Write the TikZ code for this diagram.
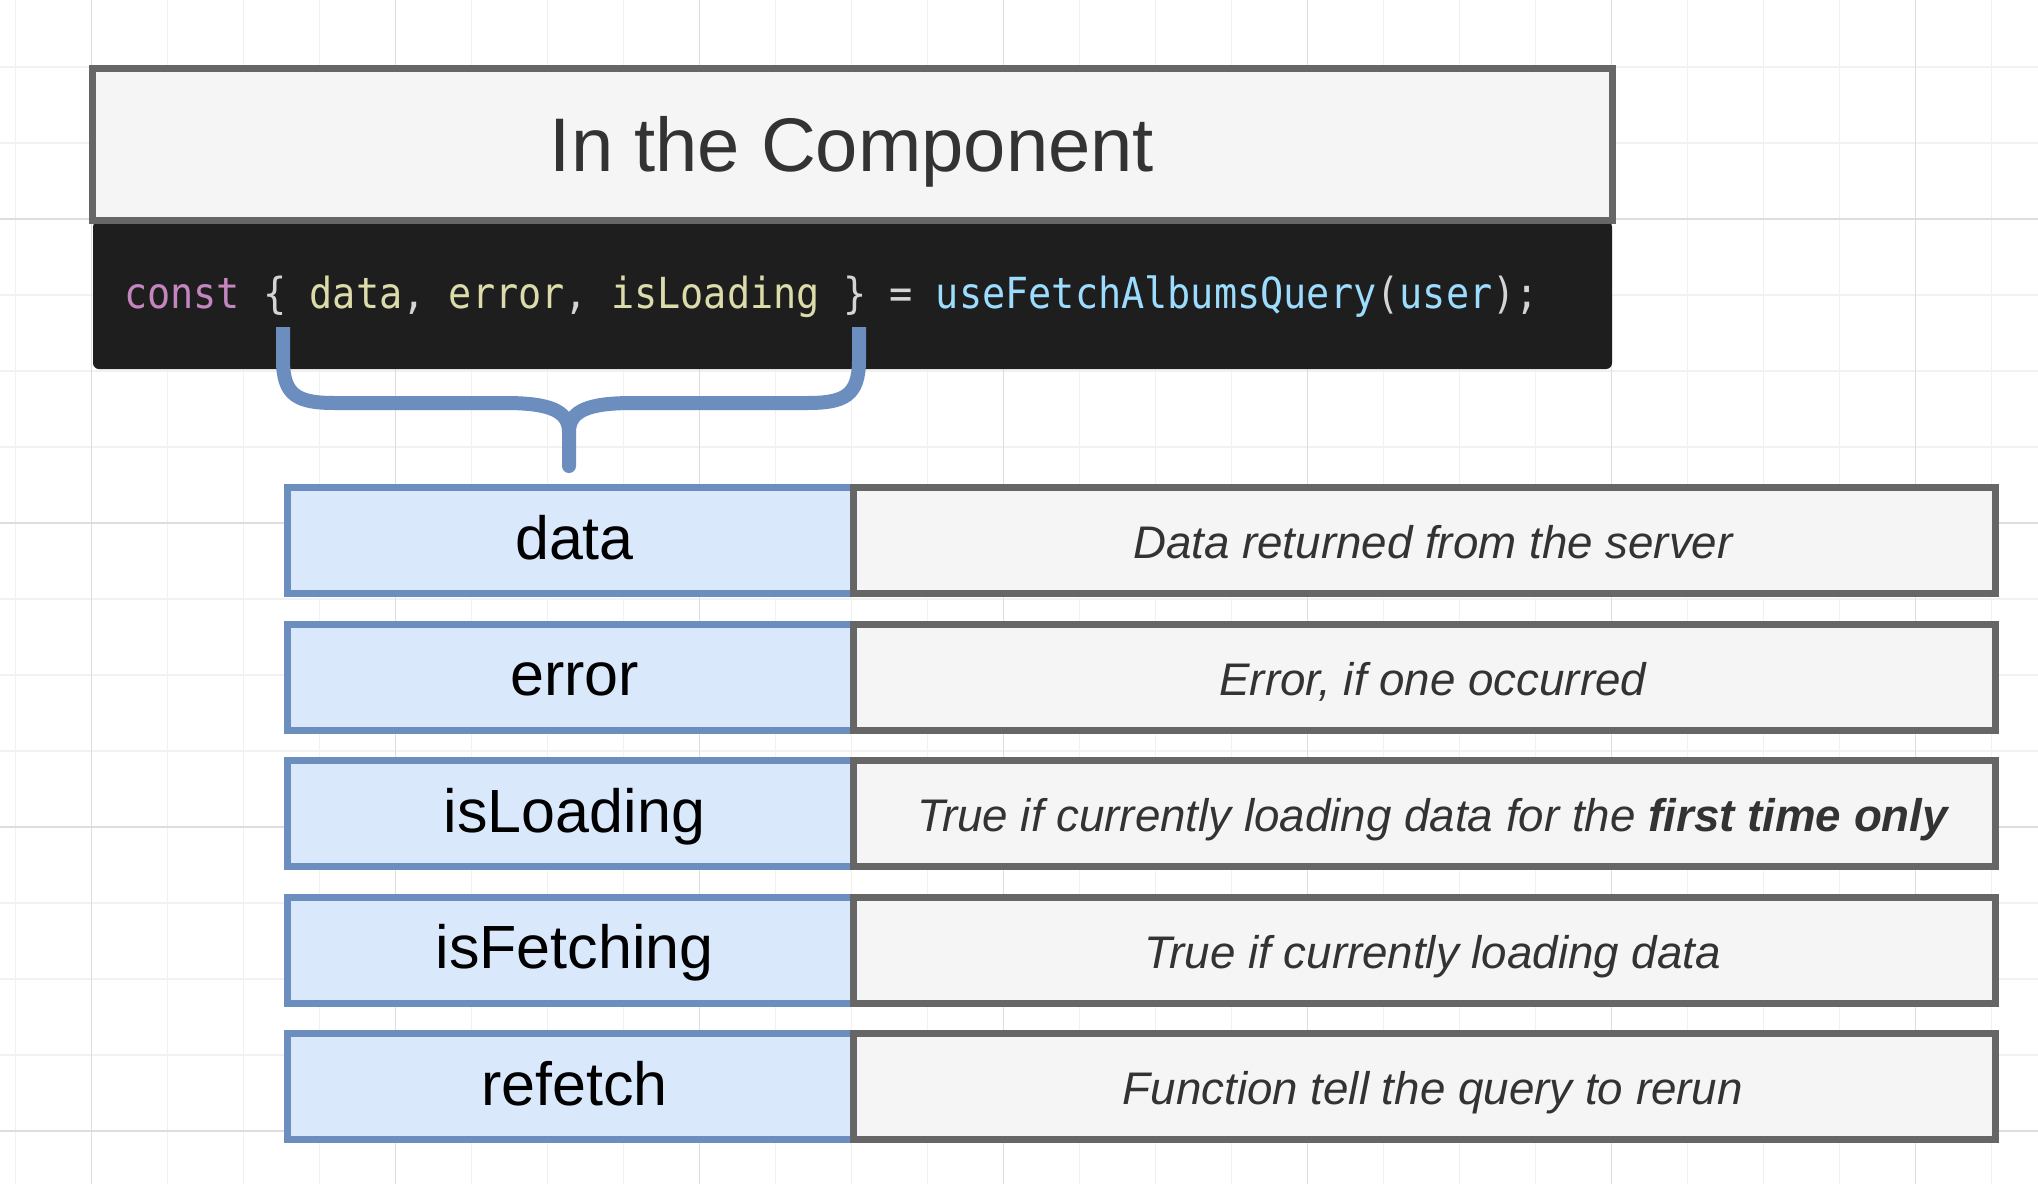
\documentclass[tikz,border=0pt]{standalone}
\usepackage{fontspec}
\setmainfont{Liberation Sans}
\newfontfamily\codefont[FakeStretch=0.9]{DejaVu Sans Mono}
\definecolor{lblue}{HTML}{6C8EBF}
\definecolor{lfill}{HTML}{DAE8FC}
\definecolor{dgray}{HTML}{666666}
\definecolor{gfill}{HTML}{F5F5F5}
\definecolor{tgray}{HTML}{333333}
\definecolor{codebg}{HTML}{1E1E1E}
\definecolor{ckw}{HTML}{C586C0}
\definecolor{cpun}{HTML}{D4D4D4}
\definecolor{cvar}{HTML}{DCDCAA}
\definecolor{cfun}{HTML}{9CDCFE}
\definecolor{gminor}{HTML}{F1F1F1}
\definecolor{gmajor}{HTML}{DDDDDD}
\tikzset{
  leftcell/.style={draw=lblue, fill=lfill, line width=7pt, minimum width=566pt, minimum height=106pt, inner sep=0pt,
    font=\fontsize{61}{64}\selectfont, text=black, text height=37pt, text depth=0pt},
  rightcell/.style={draw=dgray, fill=gfill, line width=7pt, minimum width=1142.7pt, minimum height=106pt, inner sep=0pt,
    font=\fontsize{45.7}{48}\selectfont\itshape, text=tgray, text height=36pt, text depth=0pt},
  titlebox/.style={draw=dgray, fill=gfill, line width=7pt, minimum width=1520pt, minimum height=152pt, inner sep=0pt,
    font=\fontsize{76}{80}\selectfont, text=tgray, text height=55.4pt, text depth=0pt},
  codebox/.style={fill=codebg, rounded corners=6pt, minimum width=1519pt, minimum height=148pt, inner sep=0pt},
  bracestyle/.style={draw=lblue, line width=14pt, line cap=butt, line join=round},
}
\newcommand{\kshift}{\hspace*{9pt}}
\newcommand{\vshift}{\hspace*{17pt}}
\begin{document}
\begin{tikzpicture}[x=1pt, y=-1pt]
\useasboundingbox (0,0) rectangle (2038,1184);
\fill[white] (0,0) rectangle (2038,1184);
% grid
\foreach \i in {0,...,26} \draw[gminor, line width=1.5pt] (15.7+76*\i,0) -- (15.7+76*\i,1184);
\foreach \i in {1,...,15} \draw[gminor, line width=1.5pt] (0,-9+76*\i) -- (2038,-9+76*\i);
\foreach \i in {0,...,6} \draw[gmajor, line width=1.5pt] (91.7+304*\i,0) -- (91.7+304*\i,1184);
\foreach \i in {0,...,3} \draw[gmajor, line width=1.5pt] (0,219+304*\i) -- (2038,219+304*\i);

% code block and title
\node[codebox] (codebg) at (852.5,295) {};
\node[titlebox] (title) at (852,144) {In the Component};
\node[anchor=base west, inner sep=0pt, font=\codefont\fontsize{42.8}{46}\selectfont] (code) at (124,308)
  {\textcolor{ckw}{const} \textcolor{cpun}{\{} \textcolor{cvar}{data}\textcolor{cpun}{,} \textcolor{cvar}{error}\textcolor{cpun}{,} \textcolor{cvar}{isLoading} \textcolor{cpun}{\} =} \textcolor{cfun}{useFetchAlbumsQuery}\textcolor{cpun}{(}\textcolor{cfun}{user}\textcolor{cpun}{);}};

% rows
\node[leftcell] (k1) at (570,540.5) {\kshift data};
\node[rightcell] (v1) at (1424.35,540.5) {\vshift Data returned from the server};
\node[leftcell] (k2) at (570,677) {\kshift error};
\node[rightcell] (v2) at (1424.35,677) {\vshift Error, if one occurred};
\node[leftcell] (k3) at (570,813.5) {\kshift isLoading};
\node[rightcell] (v3) at (1424.35,813.5) {\vshift True if currently loading data for the \textbf{first time only}};
\node[leftcell] (k4) at (570,950) {\kshift isFetching};
\node[rightcell] (v4) at (1424.35,950) {\vshift True if currently loading data};
\node[leftcell] (k5) at (570,1086.5) {\kshift refetch};
\node[rightcell] (v5) at (1424.35,1086.5) {\vshift Function tell the query to rerun};

% brace
\coordinate (bl) at (283,327);
\coordinate (br) at (859,327);
\coordinate (bc) at (569,466);
\draw[bracestyle] (bl) -- (283,360) .. controls (283,396) and (298,403) .. (335,403) -- (505,403)
   .. controls (548,403) and (569,410) .. (569,432) -- (bc);
\draw[bracestyle] (br) -- (859,360) .. controls (859,396) and (844,403) .. (807,403) -- (633,403)
   .. controls (590,403) and (569,410) .. (569,432);
\fill[lblue] (bc) circle (7pt);
\end{tikzpicture}
\end{document}
